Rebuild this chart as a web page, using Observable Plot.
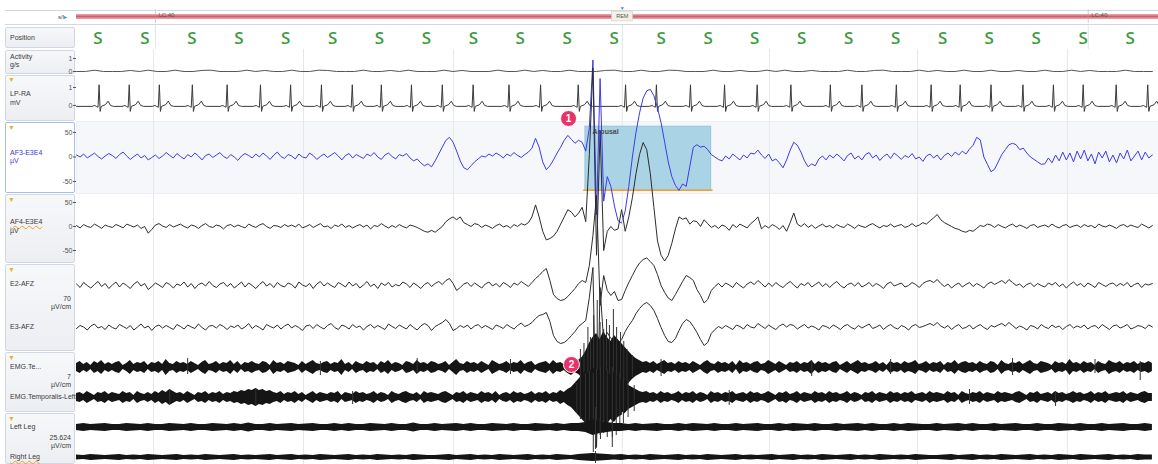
<!DOCTYPE html>
<html><head><meta charset="utf-8">
<script src="https://cdn.jsdelivr.net/npm/d3@7"></script>
<script src="https://cdn.jsdelivr.net/npm/@observablehq/plot@0.6"></script>
<style>
html,body{margin:0;padding:0;background:#fff;}
#root{position:relative;width:1158px;height:464px;overflow:hidden;background:#fff;font-family:"Liberation Sans",Arial,sans-serif;}
.box{position:absolute;left:5px;width:70px;box-sizing:border-box;border:1px solid #cfd8e4;border-radius:2px;background:linear-gradient(#f7f8fa,#eceef2);}
.sel{background:#fff;border:1.5px solid #a9bde2;}
.t{position:absolute;font-size:7px;color:#3a3a3a;white-space:nowrap;line-height:8px;}
.r{left:5px;width:66px;text-align:right;}
.ic{position:absolute;font-size:7px;color:#e2b52c;line-height:7px;}
.hl{position:absolute;height:1px;background:#d3d8df;left:5px;width:1153px;}
.wavy{text-decoration:underline wavy #f0a020;text-underline-offset:1px;}
svg.plot{position:absolute;left:0;}
</style></head>
<body>
<div id="root">
  <div class="hl" style="top:10px"></div>
  <div class="hl" style="top:24px"></div>
  <div class="t" style="left:58px;top:13px;font-size:6px;color:#444">s/l<span style="color:#3b7fd0">&#9656;</span></div>

  <div class="box" style="top:27px;height:21px"></div>
  <div class="t" style="left:10px;top:34px">Position</div>

  <div class="box" style="top:50px;height:24px"></div>
  <div class="t" style="left:10px;top:53px">Activity</div>
  <div class="t" style="left:10px;top:61px">g/s</div>

  <div class="box" style="top:75px;height:46px"></div>
  <div class="ic" style="left:8px;top:76px">&#9660;</div>
  <div class="t" style="left:10px;top:90px">LP-RA</div>
  <div class="t" style="left:10px;top:99px">mV</div>

  <div class="box sel" style="top:122px;height:71px"></div>
  <div class="ic" style="left:8px;top:124px">&#9660;</div>
  <div class="t" style="left:10px;top:149px;color:#3a3ad8">AF3-E3E4</div>
  <div class="t" style="left:10px;top:157px;color:#3a3ad8">µV</div>

  <div class="box" style="top:194px;height:69px"></div>
  <div class="ic" style="left:8px;top:196px">&#9660;</div>
  <div class="t wavy" style="left:10px;top:218px">AF4-E3E4</div>
  <div class="t" style="left:10px;top:227px">µV</div>

  <div class="box" style="top:264px;height:87px"></div>
  <div class="ic" style="left:8px;top:266px">&#9660;</div>
  <div class="t" style="left:10px;top:280px">E2-AFZ</div>
  <div class="t r" style="top:295px">70</div>
  <div class="t r" style="top:303px">µV/cm</div>
  <div class="t" style="left:10px;top:323px">E3-AFZ</div>

  <div class="box" style="top:352px;height:60px"></div>
  <div class="ic" style="left:8px;top:354px">&#9660;</div>
  <div class="t" style="left:10px;top:363px">EMG.Te...</div>
  <div class="t r" style="top:373px">7</div>
  <div class="t r" style="top:381px">µV/cm</div>
  <div class="t" style="left:10px;top:393px">EMG.Temporalis-Left</div>

  <div class="box" style="top:413px;height:51px"></div>
  <div class="ic" style="left:8px;top:415px">&#9660;</div>
  <div class="t" style="left:10px;top:423px">Left Leg</div>
  <div class="t r" style="top:434px">25.624</div>
  <div class="t r" style="top:442px">µV/cm</div>
  <div class="t wavy" style="left:10px;top:453px">Right Leg</div>
</div>
<script>
// ---------- DATA ----------
const X_DOMAIN = [0, 30.17];           // seconds shown
const dtEEG = 0.1, dtEMG = 0.1, dtLeg = 0.2, dtAct = 0.25;

const headerMarks = [{t: 2.2, label: "LC:40"}, {t: 28.21, label: "LC:40"}];
const stageLabels = [{stage: "REM", start: 14.93, end: 15.52, mid: 15.22}];
const gridTimes = [2.15, 6.33, 10.51, 15.22, 19.32, 23.45, 27.63];
const positionTimes = [0.60, 1.91, 3.22, 4.53, 5.83, 7.14, 8.45, 9.76, 11.07, 12.37, 13.68, 14.99, 16.30, 17.61, 18.91, 20.22, 21.53, 22.84, 24.15, 25.45, 26.76, 28.07, 29.38];
const positionCodes = positionTimes.map(() => "S");

const activity = [
0,0,0.1,0,0,0,0.08,0,0.1,0, 0,0.1,0,0,0.08,0.1,0,0,0,0.1,
0,0.08,0,0,0.1,0,0,0.1,0.08,0, 0,0,0.1,0,0,0.08,0,0.1,0,0,
0,0.1,0,0.08,0,0,0,0.1,0,0, 0.1,0,0.08,0,0,0.1,0,0,0,0.08,
0.1,0,0,0.1,0,0,0.1,0.08,0,0, 0,0.1,0,0,0.08,0,0,0.1,0,0.1,
0,0,0.08,0,0,0,0.1,0,0,0.08, 0.1,0,0,0,0.1,0,0.08,0,0,0.1,
0,0,0.1,0,0,0.08,0,0,0.1,0, 0,0.1,0,0.08,0,0,0,0.1,0,0, 0];

const ecgBeats = [0.63,1.47,2.31,3.23,4.20,5.13,5.97,6.83,7.69,8.50,9.34,10.20,11.06,12.06,12.94,13.99,15.31,16.17,17.12,18.07,18.98,19.92,21.02,21.90,22.86,23.83,24.64,25.50,26.39,27.24,28.07,28.99,29.87];
const ecgShapeT = [-0.2,-0.12,-0.08,-0.03,0,0.03,0.06,0.18,0.25,0.32,0.4];
const ecgShapeV = [-0.05,0.0,-0.05,-0.1,1.15,-0.33,-0.05,0.05,0.24,0.0,-0.05];
const ecgBaseline = -0.05;

const af3 = [
4,0,6,-2,3,8,1,-4,2,7, 3,-3,5,10,2,-5,1,6,-2,3, -6,-1,4,-3,2,9,3,-2,7,1,
-4,5,0,8,2,-6,3,6,-1,4, 9,1,-3,5,0,-7,2,7,3,-2, 6,0,8,2,-5,4,10,1,-3,5,
2,-4,6,0,-2,8,3,-5,1,6, -1,4,9,2,-6,3,7,-2,5,1, -3,6,2,9,0,-5,4,8,1,-4,
5,2,7,-2,-8,-4,-12,-18,-14,-20, -8,6,20,34,40,30,12,-8,-22,-26, -18,-10,-4,2,0,6,2,8,4,-2,
6,2,9,3,-1,5,10,18,38,20, -10,-26,-18,-6,8,20,34,44,36,28, 34,30,12,60,198,-118,160,-90,-40,-60,
-100,-130,-135,-110,-60,0,50,90,120,135, 138,125,100,70,30,-10,-40,-58,-68,-55, -60,-20,20,25,20,22,15,5,0,-5,
-8,2,-4,6,0,-6,4,-2,8,6, 14,4,-3,6,-8,-4,-12,-22,-6,14, 30,24,10,-8,-20,-14,-18,-4,2,-6,
4,-2,6,0,-8,3,8,-4,2,-6, 5,9,-2,4,-7,1,6,-3,8,2, -5,3,-1,7,-4,0,-9,2,6,-2,
4,-6,3,8,1,10,4,12,6,16, 24,40,35,0,-15,-30,-25,-10,5,15, 25,28,25,15,18,8,0,-5,-10,-15,
-14,-2,-12,4,-8,10,-6,8,-10,12, -4,14,-8,6,-14,10,-2,12,-10,4, -12,8,-4,14,-8,2,12,-6,10,-2, 4];

const af4 = [
2,-3,4,0,-2,5,1,-4,3,0, -2,4,1,-3,5,2,-1,3,-4,0, -14,-6,3,6,1,-2,4,-1,2,5,
0,-3,3,1,-4,2,6,0,-2,3, 1,-5,2,4,-1,3,0,-3,5,1, -2,3,6,0,-4,2,1,-2,4,0,
3,-1,5,-3,0,4,-2,2,6,-1, 1,-4,3,0,5,-2,2,-3,1,4, -1,3,-5,2,0,6,1,-3,2,-2,
4,0,-3,3,1,-2,-6,-10,-12,-8, -12,-6,0,10,16,20,14,20,8,4, 0,6,4,-2,3,0,-4,2,5,-1,
2,-3,4,0,6,3,8,20,45,20, -10,-28,-25,-20,-10,5,20,35,30,20, 28,40,10,150,330,-60,200,-50,-10,0,
-8,-5,35,-10,20,60,110,150,175,160, 110,40,-30,-60,-72,-60,-35,-5,20,15, 18,5,12,10,0,14,6,-2,2,-4,
3,0,-8,4,-2,5,1,-3,6,12, 20,-5,2,-3,4,0,-6,2,-10,8, 28,5,0,6,-2,3,-4,1,5,-1,
2,-3,4,0,-2,5,1,-4,3,0, -2,3,6,1,-3,2,0,5,-1,2, 4,-2,1,6,0,3,8,5,12,18,
25,14,8,4,0,-4,-6,-10,-12,-8, -10,-4,2,0,5,3,-2,4,0,-3, 2,5,-1,3,0,-4,2,4,-2,1,
3,-1,5,0,-3,2,4,-2,1,3, -2,4,0,2,-3,5,1,-1,3,0, -4,2,4,-1,3,0,-2,5,1,-3, 2];

const e2 = [
3,-4,6,0,-5,2,8,-2,4,-6, 1,7,-3,5,0,-6,3,8,-1,4, -8,-2,5,1,-4,6,2,-5,3,0,
7,-3,4,-6,2,5,-1,8,0,-4, 3,6,-2,4,-5,1,7,-3,5,0, -6,2,8,-1,4,-4,6,0,-3,5,
2,-5,7,1,-2,4,-6,3,8,-1, 5,0,-4,6,2,-3,7,-1,4,-5, 1,8,-2,3,-6,5,0,6,-3,2,
-1,7,3,-4,5,0,-6,2,6,-2, 4,8,2,10,14,4,-10,-4,3,6, -2,5,0,-5,3,7,-1,4,-3,6,
2,-4,5,1,8,3,-2,6,14,20, 28,34,10,-18,-26,-30,-28,-22,-14,-6, 4,10,6,40,100,180,-40,20,-10,-20,
-12,-30,-28,-10,6,20,34,45,52,55, 48,40,22,0,-14,-25,-30,-18,-5,8, 20,16,10,-8,-20,-35,-28,-10,-2,4,
-3,5,1,-4,6,0,-5,3,7,2, 10,4,-3,5,-2,6,0,-4,3,8, 1,-5,4,0,6,-3,2,7,-2,4,
-4,3,8,0,-5,2,5,-1,6,-3, 1,6,-2,4,0,-6,3,7,-1,2, 5,-3,0,6,2,-4,4,8,10,6,
12,4,-2,3,-5,1,5,-3,2,6, -2,4,0,-5,3,7,2,6,10,4, 12,6,0,3,-4,2,5,-2,4,0,
-3,5,1,6,-2,3,-5,2,7,0, 4,-3,5,1,-4,6,2,-2,3,5, -1,4,0,6,-3,2,5,-4,3,1, 4];

const e3 = [
-2,4,1,-5,3,7,-1,2,-4,5, 0,-3,6,2,-2,4,-5,1,7,-1, 3,-6,2,5,-1,4,0,-4,6,2,
-3,5,1,-2,7,0,-5,3,4,-1, 6,2,-4,3,0,5,-3,1,8,-2, 4,0,-5,6,2,-1,5,-3,3,7,
-1,4,0,-6,3,5,-2,6,1,-3, 4,8,0,-4,5,2,-3,6,0,3, -5,2,6,-1,4,0,-4,7,2,-2,
5,1,-3,6,0,-5,3,8,4,-6, 2,6,10,16,8,-6,-2,4,0,5, -3,3,6,-1,4,0,-4,5,2,-2,
6,1,-3,4,9,2,5,10,18,24, 26,30,12,-16,-28,-32,-30,-24,-16,-8, 2,8,14,60,120,-240,80,-30,-10,-22,
-26,-32,-24,-8,4,14,28,38,46,50, 44,34,18,0,-16,-28,-30,-22,-6,8, 16,12,2,-10,-24,-36,-30,-12,-4,2,
-2,4,0,-4,5,2,-3,6,1,-1, 8,3,-2,5,0,-4,3,7,1,6, 4,-3,2,6,-1,3,0,-5,4,2,
-2,5,1,-4,3,6,0,-3,4,-1, 3,7,-2,1,5,-4,2,6,0,-3, 4,1,-5,3,6,0,2,5,8,4,
10,3,-1,4,-4,2,6,-2,0,5, -3,2,6,0,-4,4,1,5,8,3, 10,4,-2,3,0,-5,4,2,-3,6,
1,-2,5,0,3,-4,2,6,-1,3, 0,5,-3,2,4,-2,6,1,-4,3, 5,-1,2,6,-3,0,4,2,-2,5, 1];

// EMG envelopes (half-amplitude, µV), one value per 0.1 s
const emgTe = [
4,6,3,5,2,6,4,7,3,5, 3,5,6,2,4,7,3,5,4,6, 2,5,4,6,3,8,4,3,6,4,
5,3,6,4,2,5,7,3,4,6, 3,5,4,7,3,6,2,5,4,6, 4,3,6,5,2,7,4,5,3,6,
5,4,2,6,3,5,7,4,3,5, 6,3,5,4,8,3,5,2,6,4, 3,6,4,5,2,6,4,7,3,5,
4,2,6,5,3,7,4,5,3,6, 5,3,4,6,2,5,8,4,3,6, 4,5,3,6,4,2,7,5,3,4,
6,3,5,4,7,3,5,6,2,4, 5,6,3,7,4,5,3,6,8,5, 7,10,16,24,30,34,28,36,30,26,
32,28,24,20,16,12,9,7,5,6, 4,6,3,5,7,4,5,3,6,4, 5,3,6,4,2,5,7,4,3,6,
4,5,3,6,2,7,4,5,3,5, 6,3,4,7,5,3,6,4,2,5, 4,6,3,5,4,7,3,6,4,5,
3,5,6,2,4,6,3,5,7,4, 5,3,4,6,3,5,2,6,4,5, 3,6,4,5,7,3,4,6,3,5,
4,6,2,5,4,7,3,5,6,4, 5,3,6,4,3,6,5,2,7,4, 3,5,4,6,3,5,7,4,3,6,
5,4,2,6,4,5,3,8,4,5, 3,6,4,5,2,6,4,3,7,5, 4,6,3,5,4,6,3,5,4,6, 4];

const emgL = [
4,5,3,6,4,2,5,4,6,3, 5,4,3,6,4,5,2,6,4,3, 5,3,6,4,7,5,8,6,4,5,
3,6,4,2,5,4,6,3,5,4, 6,3,5,4,6,5,7,6,8,7, 9,7,8,6,7,5,4,6,3,5,
4,6,3,5,2,4,6,3,5,4, 3,5,4,6,2,5,4,3,6,4, 5,3,4,6,3,5,4,2,6,4,
3,5,6,4,3,5,2,6,4,5, 4,3,5,6,4,2,5,4,6,3, 5,4,3,6,4,5,3,6,2,4,
5,3,6,4,5,3,4,6,3,5, 4,6,3,5,4,7,5,8,10,14, 18,22,26,24,30,26,28,24,27,22,
25,20,18,16,12,10,8,6,5,6, 4,5,3,6,4,5,3,4,6,3, 5,4,6,3,5,4,2,6,4,5,
3,5,4,6,3,4,5,3,6,4, 5,3,4,6,4,2,5,4,6,3, 4,6,3,5,4,3,6,4,5,3,
6,4,5,3,4,6,3,5,4,2, 5,4,6,3,5,4,3,6,4,5, 3,5,4,6,3,4,5,3,6,4,
5,4,3,6,4,5,2,6,4,3, 5,4,6,3,5,4,3,6,4,5, 4,3,5,6,4,2,5,4,6,3,
4,5,3,6,4,5,3,4,6,4, 5,3,4,6,3,5,4,6,3,4, 5,4,6,3,5,4,3,5,6,4, 4];

// leg envelopes, one value per 0.2 s
const legL = [
3,4,3,3.5,4,3,3,4,3.5,3, 4,3,3,4,3.5,3,4,3,3,4, 3.5,3,4,3,4.5,3,3,4,3,3.5,
4,3,3.5,4,3,3,4,3,4,3, 3,4,3.5,3,4,3,3,4.5,3,3, 4,3,3.5,4,3,4,3,3,4,3.5,
3,4,3,3,4,3.5,3,4,3,4, 4,5,8,6,5,4,4,3,4,3, 3.5,4,3,3,4,3,4,3.5,3,4,
3,3,4,3,3.5,4,3,3,4,3, 4,3.5,3,4,3,3,4,3,3.5,4, 3,4,3,3,4,3,4,3.5,3,3,
4,3,3.5,4,3,4,3,3,4,3, 3.5,4,3,3,4,3,3,4,3.5,3, 4,3,3,4,3,3.5,4,3,3,4, 3];

const legR = [
2.5,2,3,2.5,2,2.5,3,2,2.5,2, 3,2.5,2,2.5,3,2,2.5,2,3,2.5, 2,2.5,3,2,2.5,2,2.5,3,2,2.5,
3,2,2.5,2,3,2.5,2,2.5,3,2, 2.5,2,3,2.5,2,2.5,2,3,2.5,2, 2,2.5,3,2,2.5,3,2,2.5,2,3,
2.5,2,2.5,3,2,2.5,2,3,2.5,2, 3,3.5,4,3.5,3,2.5,3,2,2.5,2, 3,2.5,2,2.5,3,2,2.5,2,3,2.5,
2,2.5,3,2,2.5,2,2.5,3,2,2.5, 3,2,2.5,2,3,2.5,2,2.5,3,2, 2.5,2,3,2.5,2,2.5,2,3,2.5,2,
2,2.5,3,2,2.5,3,2,2.5,2,3, 2.5,2,2.5,3,2,2.5,2,3,2.5,2, 3,2.5,2,2.5,3,2,2.5,2,3,2.5, 2.5];

// spikes: [time, low, high]
const emgTeSpikes = [
[3.1,-7,9],[6.8,-8,6],[9.5,-6,9],[12.1,-7,8],[16.3,-9,8],[20.5,-9,7],[22.7,-7,8],[26.1,-8,9],[28.4,-6,8],[29.66,-13,6],
[14.05,-14,18],[14.15,-20,24],[14.26,-26,40],[14.33,-32,30],[14.42,-30,52],[14.52,-30,67],[14.60,-34,45],[14.70,-28,38],
[14.78,-36,48],[14.86,-30,42],[14.97,-32,58],[15.06,-26,40],[15.17,-24,35],[15.26,-18,26],[15.35,-14,18],[15.5,-10,12]];
const emgLSpikes = [
[2.6,-7,8],[5.0,-9,9],[7.7,-7,6],[18.2,-8,7],[24.9,-7,8],[27.3,-9,6],
[13.95,-16,14],[14.05,-22,20],[14.19,-26,24],[14.30,-34,26],[14.41,-55,24],[14.50,-38,28],[14.61,-42,30],[14.70,-36,26],
[14.80,-40,28],[14.94,-50,30],[15.05,-38,26],[15.15,-30,24],[15.25,-26,20],[15.38,-20,16],[15.55,-14,12]];
const legLSpikes = [[14.47,-22,20],[14.94,-10,10],[14.6,-8,9]];
const legRSpikes = [[14.47,-6,6]];

const arousal = [{label: "Arousal", start: 14.19, end: 17.70, top: 62, bottom: -68}];
const badges = [{n: "1", t: 13.72, v: 78.5}, {n: "2", t: 13.80, v: 3}];

// ---------- DRAW ----------
const root = document.getElementById("root");
const series = (vals, dt) => vals.map((v, i) => ({t: +(i * dt).toFixed(3), v}));
const FONT = "Liberation Sans, Arial, sans-serif";

function addPlot(top, height, y, marks) {
  const opts = {
    width: 1158, height,
    marginLeft: 76, marginRight: 0, marginTop: 0, marginBottom: 0,
    x: {domain: X_DOMAIN, axis: null},
    style: {background: "transparent", overflow: "visible", fontSize: "7px", fontFamily: FONT, color: "#555"},
    marks
  };
  if (y) opts.y = y;
  const svg = Plot.plot(opts);
  svg.style.position = "absolute";
  svg.style.left = "0px";
  svg.style.top = top + "px";
  root.appendChild(svg);
}
const yAxis = (domain, ticks) => ({domain, axis: ticks ? "left" : null, ticks: ticks || undefined, tickSize: 3, tickPadding: 1, label: null, tickFormat: d => String(d)});
const grid = () => Plot.ruleX(gridTimes, {stroke: "#e4e8ee", strokeWidth: 1});

// header (hypnogram bar)
addPlot(9, 14, {domain: [-1, 1], axis: null}, [
  Plot.ruleX(headerMarks, {x: "t", stroke: "#c9ced6"}),
  Plot.ruleY([0], {stroke: "#e3a0a6", strokeWidth: 5}),
  Plot.ruleY([0], {stroke: "#d2606b", strokeWidth: 2}),
  Plot.text(headerMarks, {x: "t", y: () => 0.15, text: "label", dx: 3, textAnchor: "start", fontSize: 6, fill: "#555"}),
  Plot.rect(stageLabels, {x1: "start", x2: "end", y1: () => -0.7, y2: () => 0.7, fill: "#f3f0e6", stroke: "#cbc3ad", strokeWidth: 0.5}),
  Plot.text(stageLabels, {x: "mid", y: () => 0, text: "stage", fontSize: 5.5, fill: "#555"}),
  Plot.text(stageLabels, {x: "mid", y: () => 1.15, text: () => "▼", fontSize: 5, fill: "#3b82d6"})
]);

// position
addPlot(25, 24, null, [
  Plot.ruleX(headerMarks, {x: "t", stroke: "#dfe3e9"}),
  Plot.ruleX([stageLabels[0].mid], {stroke: "#dfe3e9"}),
  Plot.text(positionTimes, {x: d => d, text: (d, i) => positionCodes[i], frameAnchor: "middle", dy: 1,
    fill: "#3d9b3f", fontSize: 17, fontWeight: 600, fontFamily: "Open Sans"})
]);

// activity
addPlot(49, 27, yAxis([-0.385, 1.69], [1, 0]), [
  grid(),
  Plot.line(series(activity, dtAct), {x: "t", y: "v", stroke: "#555", strokeWidth: 1})
]);

// ECG
const ecgPts = [{t: 0, v: ecgBaseline}];
ecgBeats.forEach(b => ecgShapeT.forEach((o, k) => ecgPts.push({t: b + o, v: ecgShapeV[k]})));
ecgPts.push({t: X_DOMAIN[1], v: ecgBaseline});
addPlot(76, 45, yAxis([-0.89, 1.61], [1, 0]), [
  grid(),
  Plot.line(ecgPts.filter(d => d.t >= 0), {x: "t", y: "v", stroke: "#3a3a3a", strokeWidth: 1})
]);

// AF3 (blue, selected)
addPlot(121, 72, yAxis([-74.5, 72.4], [50, 0, -50]), [
  Plot.frame({fill: "#f6f7fa", stroke: "#eceff3"}),
  grid(),
  Plot.rect(arousal, {x1: "start", x2: "end", y1: "bottom", y2: "top", fill: "#a3d0e3", fillOpacity: 0.92, stroke: "#8dc0d6", strokeWidth: 0.8}),
  Plot.ruleY(arousal, {y: "bottom", x1: d => d.start - 0.05, x2: d => d.end + 0.05, stroke: "#f2a22c", strokeWidth: 1.5}),
  Plot.text(arousal, {x: d => d.start + 0.2, y: () => 52, text: "label", textAnchor: "start", fontSize: 7, fontWeight: "bold", fill: "#4a4a4a"}),
  Plot.line(series(af3, dtEEG), {x: "t", y: "v", stroke: "#3b3bea", strokeWidth: 1}),
  Plot.dot(badges.slice(0, 1), {x: "t", y: "v", r: 8, fill: "#e8336a", stroke: "#fff", strokeWidth: 1}),
  Plot.text(badges.slice(0, 1), {x: "t", y: "v", text: "n", fill: "#fff", fontSize: 10, fontWeight: "bold"})
]);

// AF4
addPlot(193, 70, yAxis([-77.1, 68.75], [50, 0, -50]), [
  grid(),
  Plot.line(series(af4, dtEEG), {x: "t", y: "v", stroke: "#2c2c2c", strokeWidth: 1})
]);

// E2-AFZ, E3-AFZ
addPlot(263, 44, {domain: [-44, 44], axis: null}, [
  grid(),
  Plot.line(series(e2, dtEEG), {x: "t", y: "v", stroke: "#2c2c2c", strokeWidth: 1})
]);
addPlot(307, 44, {domain: [-48, 40], axis: null}, [
  grid(),
  Plot.line(series(e3, dtEEG), {x: "t", y: "v", stroke: "#2c2c2c", strokeWidth: 1})
]);

// EMG & legs
function emgRow(top, height, domain, vals, dt, spikes, extra) {
  addPlot(top, height, {domain, axis: null}, [
    grid(),
    Plot.areaY(series(vals, dt), {x: "t", y1: d => -d.v, y2: d => d.v, fill: "#151515"}),
    Plot.ruleX(spikes, {x: d => d[0], y1: d => d[1], y2: d => d[2], stroke: "#333", strokeWidth: 1}),
    ...(extra || [])
  ]);
}
emgRow(351, 31, [-15, 16], emgTe, dtEMG, emgTeSpikes, [
  Plot.dot(badges.slice(1), {x: "t", y: "v", r: 8, fill: "#e8336a", stroke: "#fff", strokeWidth: 1}),
  Plot.text(badges.slice(1), {x: "t", y: "v", text: "n", fill: "#fff", fontSize: 10, fontWeight: "bold"})
]);
emgRow(382, 30, [-15, 15], emgL, dtEMG, emgLSpikes);
emgRow(412, 30, [-15, 15], legL, dtLeg, legLSpikes);
emgRow(442, 22, [-7, 15], legR, dtLeg, legRSpikes);
</script>
</body></html>
